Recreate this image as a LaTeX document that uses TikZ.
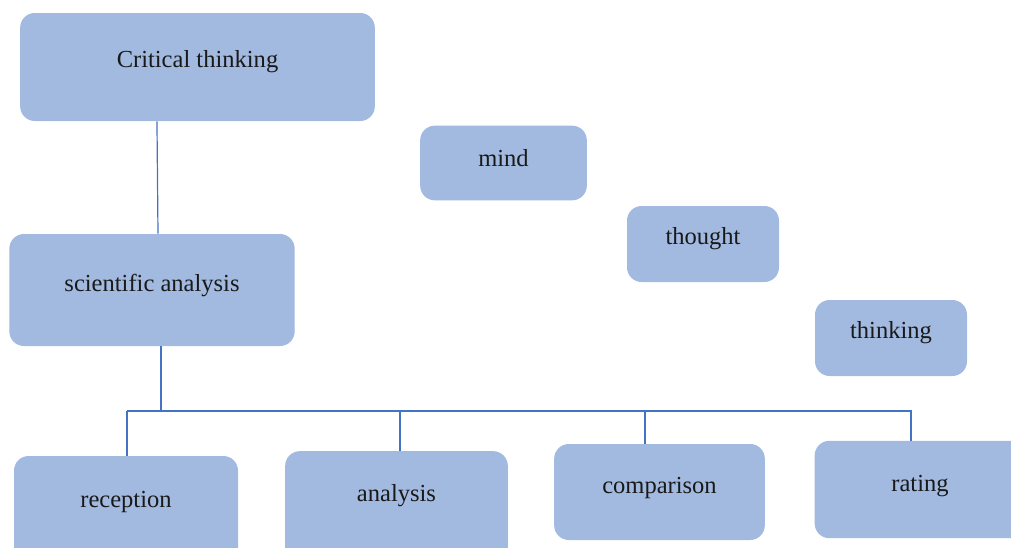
\documentclass[tikz,border=0pt]{standalone}
\usepackage{fontspec}
\setmainfont{Liberation Serif}
\usepackage{xcolor}
\usetikzlibrary{positioning}

\definecolor{boxblue}{RGB}{162,185,224}
\definecolor{lineblue}{RGB}{68,114,196}

\begin{document}
\begin{tikzpicture}[
      x=0.75pt, y=-0.75pt,
      box/.style={fill=boxblue, draw=none, rounded corners=11pt, inner sep=0pt},
      txt/.style={font=\fontsize{18.4}{22}\selectfont, text=black!90},
      ln/.style={draw=lineblue, line width=0.9pt}
    ]
    \useasboundingbox (0,0) rectangle (1011,547);
    \begin{scope}
    \clip (0,0) rectangle (1011,547);
    \node[box, minimum width=266pt, minimum height=81pt, label={[txt, yshift=3.8pt]center:Critical thinking}] (crit) at (197.5,67) {};
    \node[box, minimum width=125pt, minimum height=56pt, label={[txt, yshift=3.3pt]center:mind}] (mind) at (503.5,163) {};
    \node[box, minimum width=114pt, minimum height=57pt, label={[txt, yshift=3.8pt]center:thought}] (thought) at (703,244) {};
    \node[box, minimum width=114pt, minimum height=57pt, label={[txt, yshift=3.8pt]center:thinking}] (thinking) at (891,338) {};
    \node[box, minimum width=214pt, minimum height=84pt, label={[txt, yshift=3.3pt]center:scientific analysis}] (sci) at (152,290) {};
    \node[box, minimum width=168pt, minimum height=85.5pt, label={[txt, yshift=8.6pt]center:reception}] (rec) at (126,513) {};
    \node[box, minimum width=167pt, minimum height=89pt, label={[txt, yshift=11pt]center:analysis}] (ana) at (396.5,510.5) {};
    \node[box, minimum width=158pt, minimum height=72pt, label={[txt, yshift=2.8pt]center:comparison}] (comp) at (659.5,492) {};
    \node[box, minimum width=158pt, minimum height=73pt, label={[txt, yshift=2.8pt]center:rating}] (rate) at (920,489.5) {};
    \end{scope}
    \coordinate (busL) at (127,411);
    \coordinate (busR) at (912,411);
    \draw[ln] ([xshift=-30.4pt]crit.south) -- ([xshift=4.5pt]sci.north);
    \draw[ln] ([xshift=6.75pt]sci.south) -- ([xshift=6.75pt]sci.south |- busL);
    \draw[ln] (busL) -- (busR);
    \draw[ln] ([xshift=0.75pt]rec.north) -- ([xshift=0.75pt]rec.north |- busL);
    \draw[ln] ([xshift=2.6pt]ana.north) -- ([xshift=2.6pt]ana.north |- busL);
    \draw[ln] ([xshift=-10.9pt]comp.north) -- ([xshift=-10.9pt]comp.north |- busL);
    \draw[ln] ([xshift=-6.8pt]rate.north) -- ([xshift=-6.8pt]rate.north |- busL);
  \end{tikzpicture}
\end{document}
